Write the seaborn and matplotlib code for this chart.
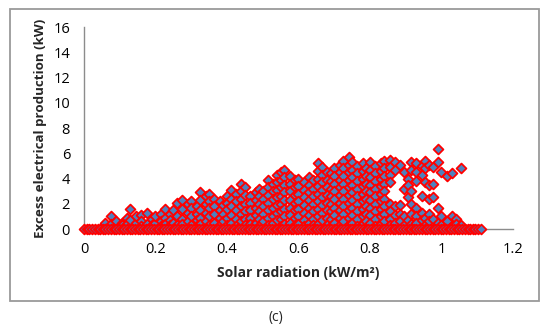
import matplotlib
matplotlib.use("Agg")
import matplotlib.pyplot as plt
import matplotlib.patches as mpatches
import seaborn as sns
import pandas as pd

# ---- data ----
# solar radiation values of the points lying on the zero line
zero_solar = [0.0, 0.008, 0.015, 0.023, 0.03, 0.038, 0.045, 0.053, 0.06, 0.068,
              0.075, 0.083, 0.09, 0.098, 0.105, 0.113, 0.12, 0.128, 0.135, 0.143,
              0.15, 0.158, 0.165, 0.173, 0.18, 0.188, 0.195, 0.203, 0.21, 0.218,
              0.225, 0.233, 0.24, 0.248, 0.255, 0.263, 0.27, 0.278, 0.285, 0.293,
              0.30, 0.308, 0.315, 0.323, 0.33, 0.338, 0.345, 0.353, 0.36, 0.368,
              0.375, 0.383, 0.39, 0.398, 0.405, 0.413, 0.42, 0.428, 0.435, 0.443,
              0.45, 0.458, 0.465, 0.473, 0.48, 0.488, 0.495, 0.503, 0.51, 0.518,
              0.525, 0.533, 0.54, 0.548, 0.555, 0.563, 0.57, 0.578, 0.585, 0.593,
              0.60, 0.608, 0.615, 0.623, 0.63, 0.638, 0.645, 0.653, 0.66, 0.668,
              0.675, 0.683, 0.69, 0.698, 0.705, 0.713, 0.72, 0.728, 0.735, 0.743,
              0.75, 0.758, 0.765, 0.773, 0.78, 0.788, 0.795, 0.803, 0.81, 0.818,
              0.825, 0.833, 0.84, 0.848, 0.855, 0.863, 0.87, 0.878, 0.885, 0.893,
              0.90, 0.908, 0.915, 0.923, 0.93, 0.938, 0.945, 0.953, 0.96, 0.968,
              0.975, 0.983, 0.99, 0.998, 1.005, 1.013, 1.02, 1.028, 1.035, 1.043,
              1.05, 1.058, 1.065, 1.073, 1.08, 1.088, 1.095, 1.103, 1.11]

# columns of non-zero points: solar radiation of each column and its excess values
col_solar = [0.06, 0.075, 0.09, 0.105, 0.12, 0.13, 0.145, 0.16, 0.175, 0.19,
             0.20, 0.215, 0.227, 0.24, 0.25, 0.26, 0.275, 0.29, 0.30, 0.315,
             0.325, 0.34, 0.35, 0.365, 0.38, 0.39, 0.40, 0.41, 0.425, 0.44,
             0.45, 0.465, 0.48, 0.49, 0.50, 0.515, 0.53, 0.54, 0.55, 0.56,
             0.575, 0.59, 0.60, 0.615, 0.63, 0.64, 0.655, 0.665, 0.68, 0.69,
             0.70, 0.715, 0.725, 0.74, 0.75, 0.765, 0.78, 0.79, 0.80, 0.815,
             0.83, 0.84, 0.855, 0.87, 0.885, 0.895, 0.905, 0.915, 0.93, 0.945,
             0.955, 0.965, 0.975, 0.99, 1.00, 1.015, 1.03, 1.04, 1.055]
col_excess = [
    [0.3, 0.5], [1.0, 0.4], [0.2, 0.6], [0.5, 0.3], [0.9, 0.4],
    [1.6, 0.7], [0.5, 1.0], [1.1, 0.6, 0.2], [1.25, 0.4], [0.8, 0.3],
    [0.5, 1.0], [1.2, 0.6, 0.2], [1.6, 0.9, 0.4], [1.2, 0.7, 0.3], [1.5, 0.5],
    [2.1, 1.0, 0.3], [2.3, 1.6, 0.8, 0.4], [2.0, 1.3, 0.6], [2.2, 1.7, 1.0, 0.3], [1.8, 1.2, 0.7, 0.2],
    [2.9, 2.3, 1.5, 0.9, 0.4], [2.6, 2.0, 1.3, 0.6], [2.8, 2.2, 1.7, 1.0, 0.3], [2.4, 1.8, 1.2, 0.5], [2.2, 1.5, 0.9, 0.3],
    [1.9, 1.2, 0.6], [2.6, 2.1, 1.6, 0.9, 0.3], [3.1, 2.4, 1.8, 1.1, 0.5], [2.8, 2.2, 1.5, 0.8, 0.2], [3.6, 3.0, 2.4, 1.8, 1.2, 0.6],
    [3.3, 2.7, 2.0, 1.4, 0.8, 0.3], [2.6, 2.1, 1.5, 0.9, 0.4], [2.9, 2.3, 1.7, 1.1, 0.5], [3.2, 2.6, 2.0, 1.4, 0.8, 0.2], [3.0, 2.4, 1.8, 1.2, 0.6],
    [3.9, 3.3, 2.7, 2.1, 1.5, 0.9, 0.3], [3.6, 3.0, 2.4, 1.7, 1.0, 0.5], [4.3, 3.7, 3.1, 2.5, 1.9, 1.3, 0.7], [4.5, 3.9, 3.3, 2.6, 2.0, 1.4, 0.8, 0.2], [4.7, 4.1, 3.5, 2.9, 2.3, 1.6, 1.0, 0.4],
    [4.2, 3.6, 3.0, 2.3, 1.7, 1.1, 0.5], [3.9, 3.3, 2.7, 2.1, 1.5, 0.9, 0.3], [4.0, 3.4, 2.8, 2.2, 1.6, 1.0, 0.4], [3.7, 3.1, 2.5, 1.9, 1.3, 0.7, 0.2], [4.1, 3.5, 2.9, 2.3, 1.7, 1.1, 0.5],
    [3.9, 3.2, 2.6, 2.0, 1.4, 0.8, 0.3], [5.2, 4.6, 4.0, 3.4, 2.8, 2.2, 1.6, 1.0, 0.4], [4.9, 4.3, 3.7, 3.1, 2.5, 1.9, 1.3, 0.7], [4.5, 3.9, 3.3, 2.7, 2.1, 1.5, 0.9, 0.3], [4.4, 3.8, 3.2, 2.6, 2.0, 1.4, 0.8, 0.2],
    [4.8, 4.2, 3.6, 3.0, 2.4, 1.7, 1.1, 0.5], [5.1, 4.5, 3.9, 3.3, 2.7, 2.1, 1.5, 0.9, 0.3], [5.4, 4.8, 4.2, 3.6, 3.0, 2.4, 1.8, 1.2, 0.6], [5.7, 5.1, 4.5, 3.9, 3.3, 2.7, 2.1, 1.5, 0.9, 0.3], [5.3, 4.7, 4.1, 3.5, 2.9, 2.3, 1.7, 1.1, 0.5],
    [5.0, 4.4, 3.8, 3.2, 2.6, 2.0, 1.4, 0.8, 0.2], [5.2, 4.6, 4.0, 3.4, 2.8, 2.2, 1.6, 1.0, 0.4], [4.8, 4.2, 3.6, 3.0, 2.4, 1.8, 1.2, 0.6], [5.3, 4.7, 4.1, 3.5, 2.9, 2.3, 1.7, 1.1, 0.5], [5.0, 4.4, 3.8, 3.2, 2.6, 2.0, 1.4, 0.8, 0.2],
    [5.2, 4.6, 4.0, 3.4, 2.8, 2.2, 1.6, 1.0, 0.4], [5.4, 4.8, 4.2, 3.6, 3.0, 2.4, 1.8, 1.2, 0.6], [5.5, 4.9, 4.3, 3.7, 2.0, 1.4, 0.8, 0.3], [5.3, 4.7, 1.8, 1.1, 0.5], [5.1, 1.9, 1.2, 0.6],
    [4.5, 3.2, 1.0, 0.3], [4.0, 3.5, 2.5, 0.7], [5.3, 4.7, 3.0, 2.0, 1.2, 0.4], [5.2, 4.5, 3.8, 1.7, 1.0, 0.5], [5.0, 4.3, 2.6, 1.3, 0.7],
    [5.4, 4.8, 3.7, 0.9, 0.3], [5.1, 3.5, 2.4, 1.2, 0.6], [4.9, 3.6, 2.5, 0.8], [6.3, 5.3, 1.7, 0.5], [4.5, 1.0, 0.3],
    [4.2, 0.6], [4.4, 1.0, 0.2], [0.8, 0.4], [4.8, 0.3],
]

x_ticks = [0, 0.2, 0.4, 0.6, 0.8, 1, 1.2]
x_tick_labels = ["0", "0.2", "0.4", "0.6", "0.8", "1", "1.2"]
y_ticks = [0, 2, 4, 6, 8, 10, 12, 14, 16]

# ---- build table ----
solar = []
excess = []
for xs, ys in zip(col_solar, col_excess):
    for yv in ys:
        solar.append(xs)
        excess.append(yv)
for xs in zero_solar:
    solar.append(xs)
    excess.append(0.0)
df = pd.DataFrame({"solar": solar, "excess": excess})

sns.set_theme(style="white")
plt.rcParams["font.family"] = ["Open Sans", "DejaVu Sans"]

fig = plt.figure(figsize=(5.5, 3.3), dpi=100)
ax = fig.add_axes([0.1527, 0.306, 0.78, 0.612])

sns.scatterplot(data=df, x="solar", y="excess", ax=ax, marker="D", s=25,
                color="#4F81BD", edgecolor="#FF0000", linewidth=1.3,
                zorder=3, clip_on=False)

ax.set_xlim(0, 1.2)
ax.set_ylim(0, 16)
ax.set_xticks(x_ticks)
ax.set_xticklabels(x_tick_labels)
ax.set_yticks(y_ticks)
ax.tick_params(axis="both", length=0, labelsize=10.5, colors="black")
ax.tick_params(axis="x", pad=9)
ax.tick_params(axis="y", pad=10)

for s in ["top", "right"]:
    ax.spines[s].set_visible(False)
for s in ["left", "bottom"]:
    ax.spines[s].set_color("#8c8c8c")
    ax.spines[s].set_linewidth(1.0)

ax.set_xlabel("Solar radiation (kW/m²)", fontsize=10, fontweight="bold")
ax.set_ylabel("Excess electrical production (kW)", fontsize=9.6, fontweight="bold")
ax.xaxis.label.set_va("center")
ax.xaxis.set_label_coords(0.5, -0.218)
ax.yaxis.label.set_va("center")
ax.yaxis.set_label_coords(-0.102, 0.5)

frame = mpatches.Rectangle((0.018, 0.088), 0.962, 0.885, transform=fig.transFigure,
                           fill=False, edgecolor="#9a9a9a", linewidth=1.3)
fig.patches.append(frame)

fig.text(0.502, 0.039, "(c)", ha="center", va="center", fontsize=10)

fig.savefig("out.png", dpi=100)
